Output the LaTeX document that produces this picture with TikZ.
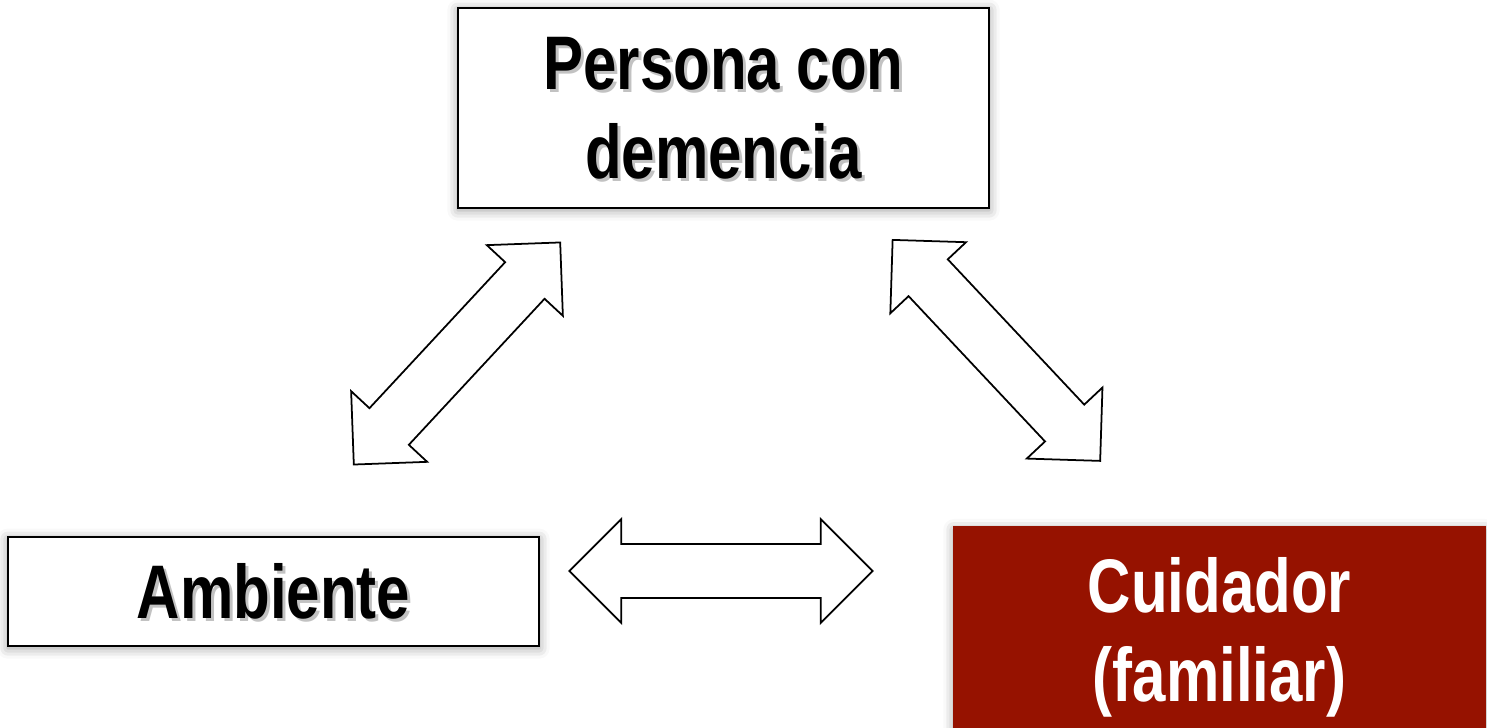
\documentclass[tikz,border=0pt]{standalone}
\usepackage{fontspec}
\newfontfamily\narrowsans{Liberation Sans}[FakeStretch=0.79]
\usetikzlibrary{calc,shapes.arrows,shadows.blur}
\definecolor{cuidred}{RGB}{150,18,0}
\def\textshadow(#1)#2{\node[boxtext, text=black!24] (#1sh) at ($(#1.center)+(3,3)$) {#2};}

\begin{document}
\begin{tikzpicture}[x=0.01cm, y=-0.01cm,
    boxtext/.style={font=\narrowsans\bfseries\fontsize{21.6}{25.3}\selectfont, align=center, inner sep=0pt},
    box/.style={draw=black, line width=0.6pt, fill=white, minimum width=5.31cm, inner sep=0pt,
      blur shadow={shadow xshift=0pt, shadow yshift=-0.6pt, shadow blur radius=3pt, shadow opacity=40}},
    dblarrow/.style={double arrow, draw=black, line width=0.5pt, fill=white, inner xsep=0pt, inner ysep=0.26cm,
      minimum height=3.03cm, minimum width=1.02cm, double arrow head extend=0.25cm, double arrow tip angle=90}]
			%%%%% START %%%%%
			\useasboundingbox (0,0) rectangle (1487,728);
			
			\node[box, minimum height=2cm] (pers) at (723.5,108) {};
			\textshadow(pers){Persona con\\demencia}
			\node[boxtext] (perstext) at (pers.center) {Persona con\\demencia};
			
			\node[box, minimum height=1.09cm] (amb) at (273.5,591.5) {};
			\textshadow(amb){Ambiente}
			\node[boxtext] (ambtext) at (amb.center) {Ambiente};
			
			\node[box, boxtext, fill=cuidred, draw=cuidred, text=white, minimum height=2.2cm] (cuid) at (1219.5,637.5) {Cuidador\\(familiar)};
			
			\node[dblarrow, rotate=47.1] (pa) at (457,353.5) {};
			\node[dblarrow, rotate=-46.8] (pc) at (996.4,350.4) {};
			\node[dblarrow] (ac) at (721,571) {};
			%%%%% END %%%%%
\end{tikzpicture}
\end{document}
